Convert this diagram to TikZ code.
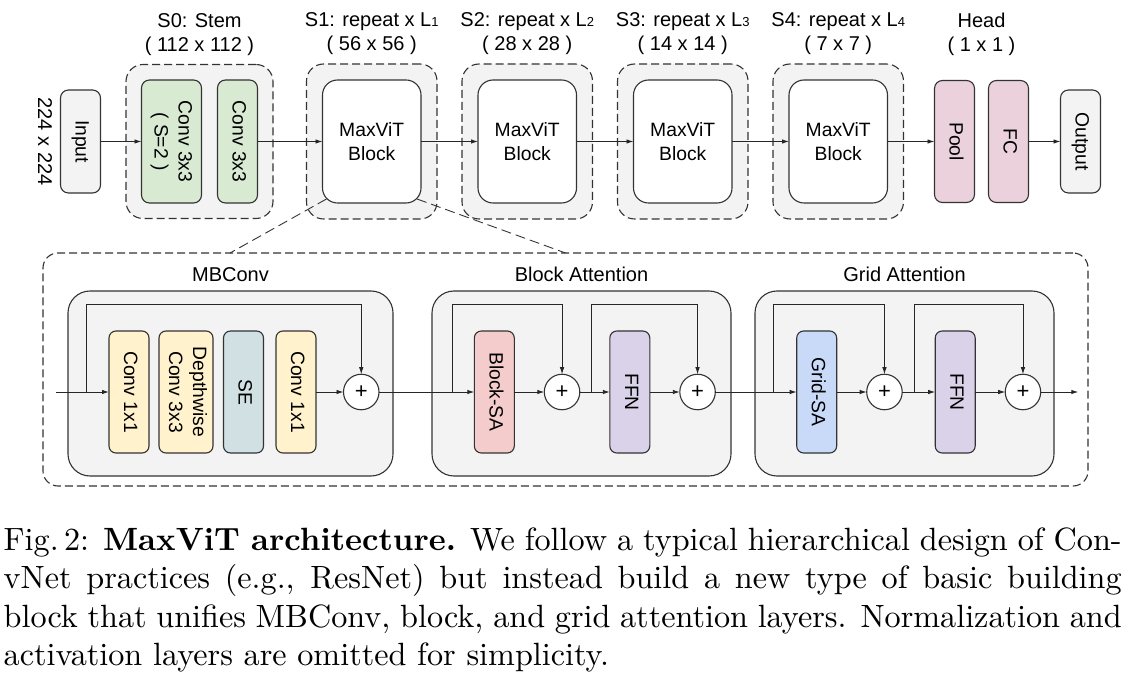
\documentclass[tikz,border=0pt]{standalone}
\usepackage{graphicx}
\usepackage{fontspec}
\setmainfont{Liberation Sans}
\newfontfamily\capfont{lmroman10}[Extension=.otf, UprightFont=*-regular, BoldFont=*-bold]
\usetikzlibrary{positioning,fit,calc,arrows.meta,backgrounds}

\definecolor{fillgray}{HTML}{F3F3F3}
\definecolor{convgreen}{HTML}{D9EAD3}
\definecolor{headpink}{HTML}{EAD1DC}
\definecolor{mbyellow}{HTML}{FFF2CC}
\definecolor{seblue}{HTML}{D0E0E3}
\definecolor{sapink}{HTML}{F4CCCC}
\definecolor{gridblue}{HTML}{C9DAF8}
\definecolor{ffnpurple}{HTML}{D9D2E9}

% text turned to read top-down
\newcommand{\rottext}[1]{\rotatebox{-90}{\begin{tabular}{@{}c@{}}#1\end{tabular}}}
\newcommand{\subl}[1]{{\fontsize{13}{13}\selectfont #1}}

\begin{document}
\begin{tikzpicture}[x=1pt,y=1pt]
      \tikzstyle{box}=[draw=black!80, line width=1.1pt, rounded corners=8pt, inner sep=0pt, outer sep=0pt, minimum width=40pt, font=\fontsize{19.3}{24}\selectfont]
      \tikzstyle{iobox}=[box, fill=fillgray, minimum height=103pt]
      \tikzstyle{convbox}=[box, fill=convgreen, minimum height=123pt]
      \tikzstyle{headbox}=[box, fill=headpink, minimum height=122pt]
      \tikzstyle{maxvit}=[box, fill=white, rounded corners=15pt, minimum width=98.5pt, minimum height=123pt, align=center]
      \tikzstyle{stage}=[draw=black!80, line width=1.1pt, dash pattern=on 8pt off 4pt, fill=fillgray, rounded corners=17pt, inner sep=16pt, outer sep=0pt]
      \tikzstyle{lbl}=[inner sep=0pt, align=center, font=\fontsize{20}{24}\selectfont]
      \tikzstyle{secbox}=[draw=black!80, line width=1.1pt, fill=fillgray, rounded corners=22pt, outer sep=0pt, minimum height=185pt]
      \tikzstyle{opblk}=[box, minimum height=122pt, rounded corners=7pt]
      \tikzstyle{addop}=[circle, draw=black!80, line width=1.1pt, fill=white, minimum size=35.5pt, inner sep=0pt, outer sep=0pt, font=\fontsize{22}{22}\selectfont]
      \tikzstyle{conn}=[-{Latex[length=7pt,width=4.5pt]}, line width=0.9pt, draw=black!85]
      \tikzstyle{zoomline}=[line width=0.9pt, dash pattern=on 10pt off 5pt, draw=black!80]
      \tikzstyle{detailbox}=[draw=black!80, line width=1.1pt, dash pattern=on 8pt off 4pt, rounded corners=15pt, outer sep=0pt, minimum width=1045pt, minimum height=233pt]
      \tikzstyle{capline}=[inner sep=0pt, anchor=base west, font=\capfont\fontsize{32.2}{38.6}\selectfont]

      \useasboundingbox (0,0) rectangle (1129,678);

      % top row
      \node[lbl] (insize) at (43,536.5) {\rottext{224 x 224}};
      \node[iobox] (input) at (80.5,536.5) {\rottext{Input}};
      \node[convbox, minimum width=60pt, right=41pt of input] (cs2) {\rottext{Conv 3x3\\( S=2 )}};
      \node[convbox, right=16pt of cs2] (c33) {\rottext{Conv 3x3}};
      \node[maxvit, right=65pt of c33] (b1) {MaxViT\\Block};
      \node[maxvit, right=57pt of b1] (b2) {MaxViT\\Block};
      \node[maxvit, right=57pt of b2] (b3) {MaxViT\\Block};
      \node[maxvit, right=57pt of b3] (b4) {MaxViT\\Block};
      \node[headbox, right=47pt of b4] (pool) {\rottext{Pool}};
      \node[headbox, right=14pt of pool] (fc) {\rottext{FC}};
      \node[iobox, right=32pt of fc] (output) {\rottext{Output}};

      \begin{scope}[on background layer]
        \node[stage, inner sep=15.5pt, fit=(cs2) (c33)] (s0) {};
        \node[stage, fit=(b1)] (s1) {};
        \node[stage, fit=(b2)] (s2) {};
        \node[stage, fit=(b3)] (s3) {};
        \node[stage, fit=(b4)] (s4) {};
      \end{scope}
      \node[inner sep=16pt, outer sep=0pt, fit=(pool) (fc)] (head) {};

      \node[lbl, above=9pt of s0] {S0: Stem\\( 112 x 112 )};
      \node[lbl, above=9pt of s1] {S1: repeat x L\subl{1}\\( 56 x 56 )};
      \node[lbl, above=9pt of s2] {S2: repeat x L\subl{2}\\( 28 x 28 )};
      \node[lbl, above=9pt of s3] {S3: repeat x L\subl{3}\\( 14 x 14 )};
      \node[lbl, above=9pt of s4] {S4: repeat x L\subl{4}\\( 7 x 7 )};
      \node[lbl, above=9pt of head] {Head\\( 1 x 1 )};

      \draw[conn] (input) -- (cs2);
      \draw[conn] (c33) -- (b1);
      \draw[conn] (b1) -- (b2);
      \draw[conn] (b2) -- (b3);
      \draw[conn] (b3) -- (b4);
      \draw[conn] (b4) -- (pool);
      \draw[conn] (fc) -- (output);

      % block detail
      \node[detailbox] (detail) at (565.5,308.5) {};
      \coordinate (zl) at ($(detail.north west)+(187,0)$);
      \draw[zoomline] ($(b1.south west)+(4,4)$) -- (zl);
      \draw[zoomline] ($(b1.south east)+(-4,4)$) -- (detail.north);

      \node[secbox, minimum width=325pt] (mbconv) at (230.5,294.5) {};
      \node[secbox, minimum width=299pt] (blkatt) at (581.5,294.5) {};
      \node[secbox, minimum width=299pt] (gridatt) at (904.5,294.5) {};
      \node[lbl, above=9pt of mbconv, anchor=base] {MBConv};
      \node[lbl, above=9pt of blkatt, anchor=base] {Block Attention};
      \node[lbl, above=9pt of gridatt, anchor=base] {Grid Attention};

      % MBConv
      \coordinate (inpt) at (56,286);
      \node[opblk, fill=mbyellow] (c1) at (129,286) {\rottext{Conv 1x1}};
      \node[opblk, fill=mbyellow, minimum width=54pt, right=10pt of c1] (dw) {\rottext{Depthwise\\Conv 3x3}};
      \node[opblk, fill=seblue, right=10.5pt of dw] (se) {\rottext{SE}};
      \node[opblk, fill=mbyellow, right=12.5pt of se] (c2) {\rottext{Conv 1x1}};
      \node[addop, right=27.5pt of c2] (add1) {+};

      % block attention
      \node[opblk, fill=sapink] (bsa) at (494.3,286) {\rottext{Block-SA}};
      \node[addop, right=30pt of bsa] (add2) {+};
      \node[opblk, fill=ffnpurple, right=30pt of add2] (ffn1) {\rottext{FFN}};
      \node[addop, right=30pt of ffn1] (add3) {+};

      % grid attention
      \node[opblk, fill=gridblue] (gsa) at (816.7,286) {\rottext{Grid-SA}};
      \node[addop, right=30pt of gsa] (add4) {+};
      \node[opblk, fill=ffnpurple, right=33pt of add4] (ffn2) {\rottext{FFN}};
      \node[addop, right=30pt of ffn2] (add5) {+};
      \coordinate (outpt) at (1078.3,286);

      \coordinate (brA) at (86.7,286);
      \coordinate (brB) at (452.3,286);
      \coordinate (brC) at ($(add2.east)+(12,0)$);
      \coordinate (brD) at (773.3,286);
      \coordinate (brE) at ($(add4.east)+(12,0)$);

      \draw[conn] (inpt) -- (c1);
      \draw[conn] (c2) -- (add1);
      \draw[conn] (add1) -- (bsa);
      \draw[conn] (bsa) -- (add2);
      \draw[conn] (add2) -- (ffn1);
      \draw[conn] (ffn1) -- (add3);
      \draw[conn] (add3) -- (gsa);
      \draw[conn] (gsa) -- (add4);
      \draw[conn] (add4) -- (ffn2);
      \draw[conn] (ffn2) -- (add5);
      \draw[conn] (add5) -- (outpt);

      \draw[conn] (brA) -- ++(0,88) -| (add1.north);
      \draw[conn] (brB) -- ++(0,88) -| (add2.north);
      \draw[conn] (brC) -- ++(0,88) -| (add3.north);
      \draw[conn] (brD) -- ++(0,88) -| (add4.north);
      \draw[conn] (brE) -- ++(0,88) -| (add5.north);

      % caption
      \node[capline] (cap1) at (3.5,128) {\makebox[1118pt][s]{Fig.\,2: \textbf{MaxViT architecture.} We follow a typical hierarchical design of Con-}};
      \node[capline] (cap2) at (3.5,89.4) {\makebox[1118pt][s]{vNet practices (e.g., ResNet) but instead build a new type of basic building}};
      \node[capline] (cap3) at (3.5,50.8) {\makebox[1118pt][s]{block that unifies MBConv, block, and grid attention layers. Normalization and}};
      \node[capline] (cap4) at (3.5,12.2) {activation layers are omitted for simplicity.};
\end{tikzpicture}
\end{document}
